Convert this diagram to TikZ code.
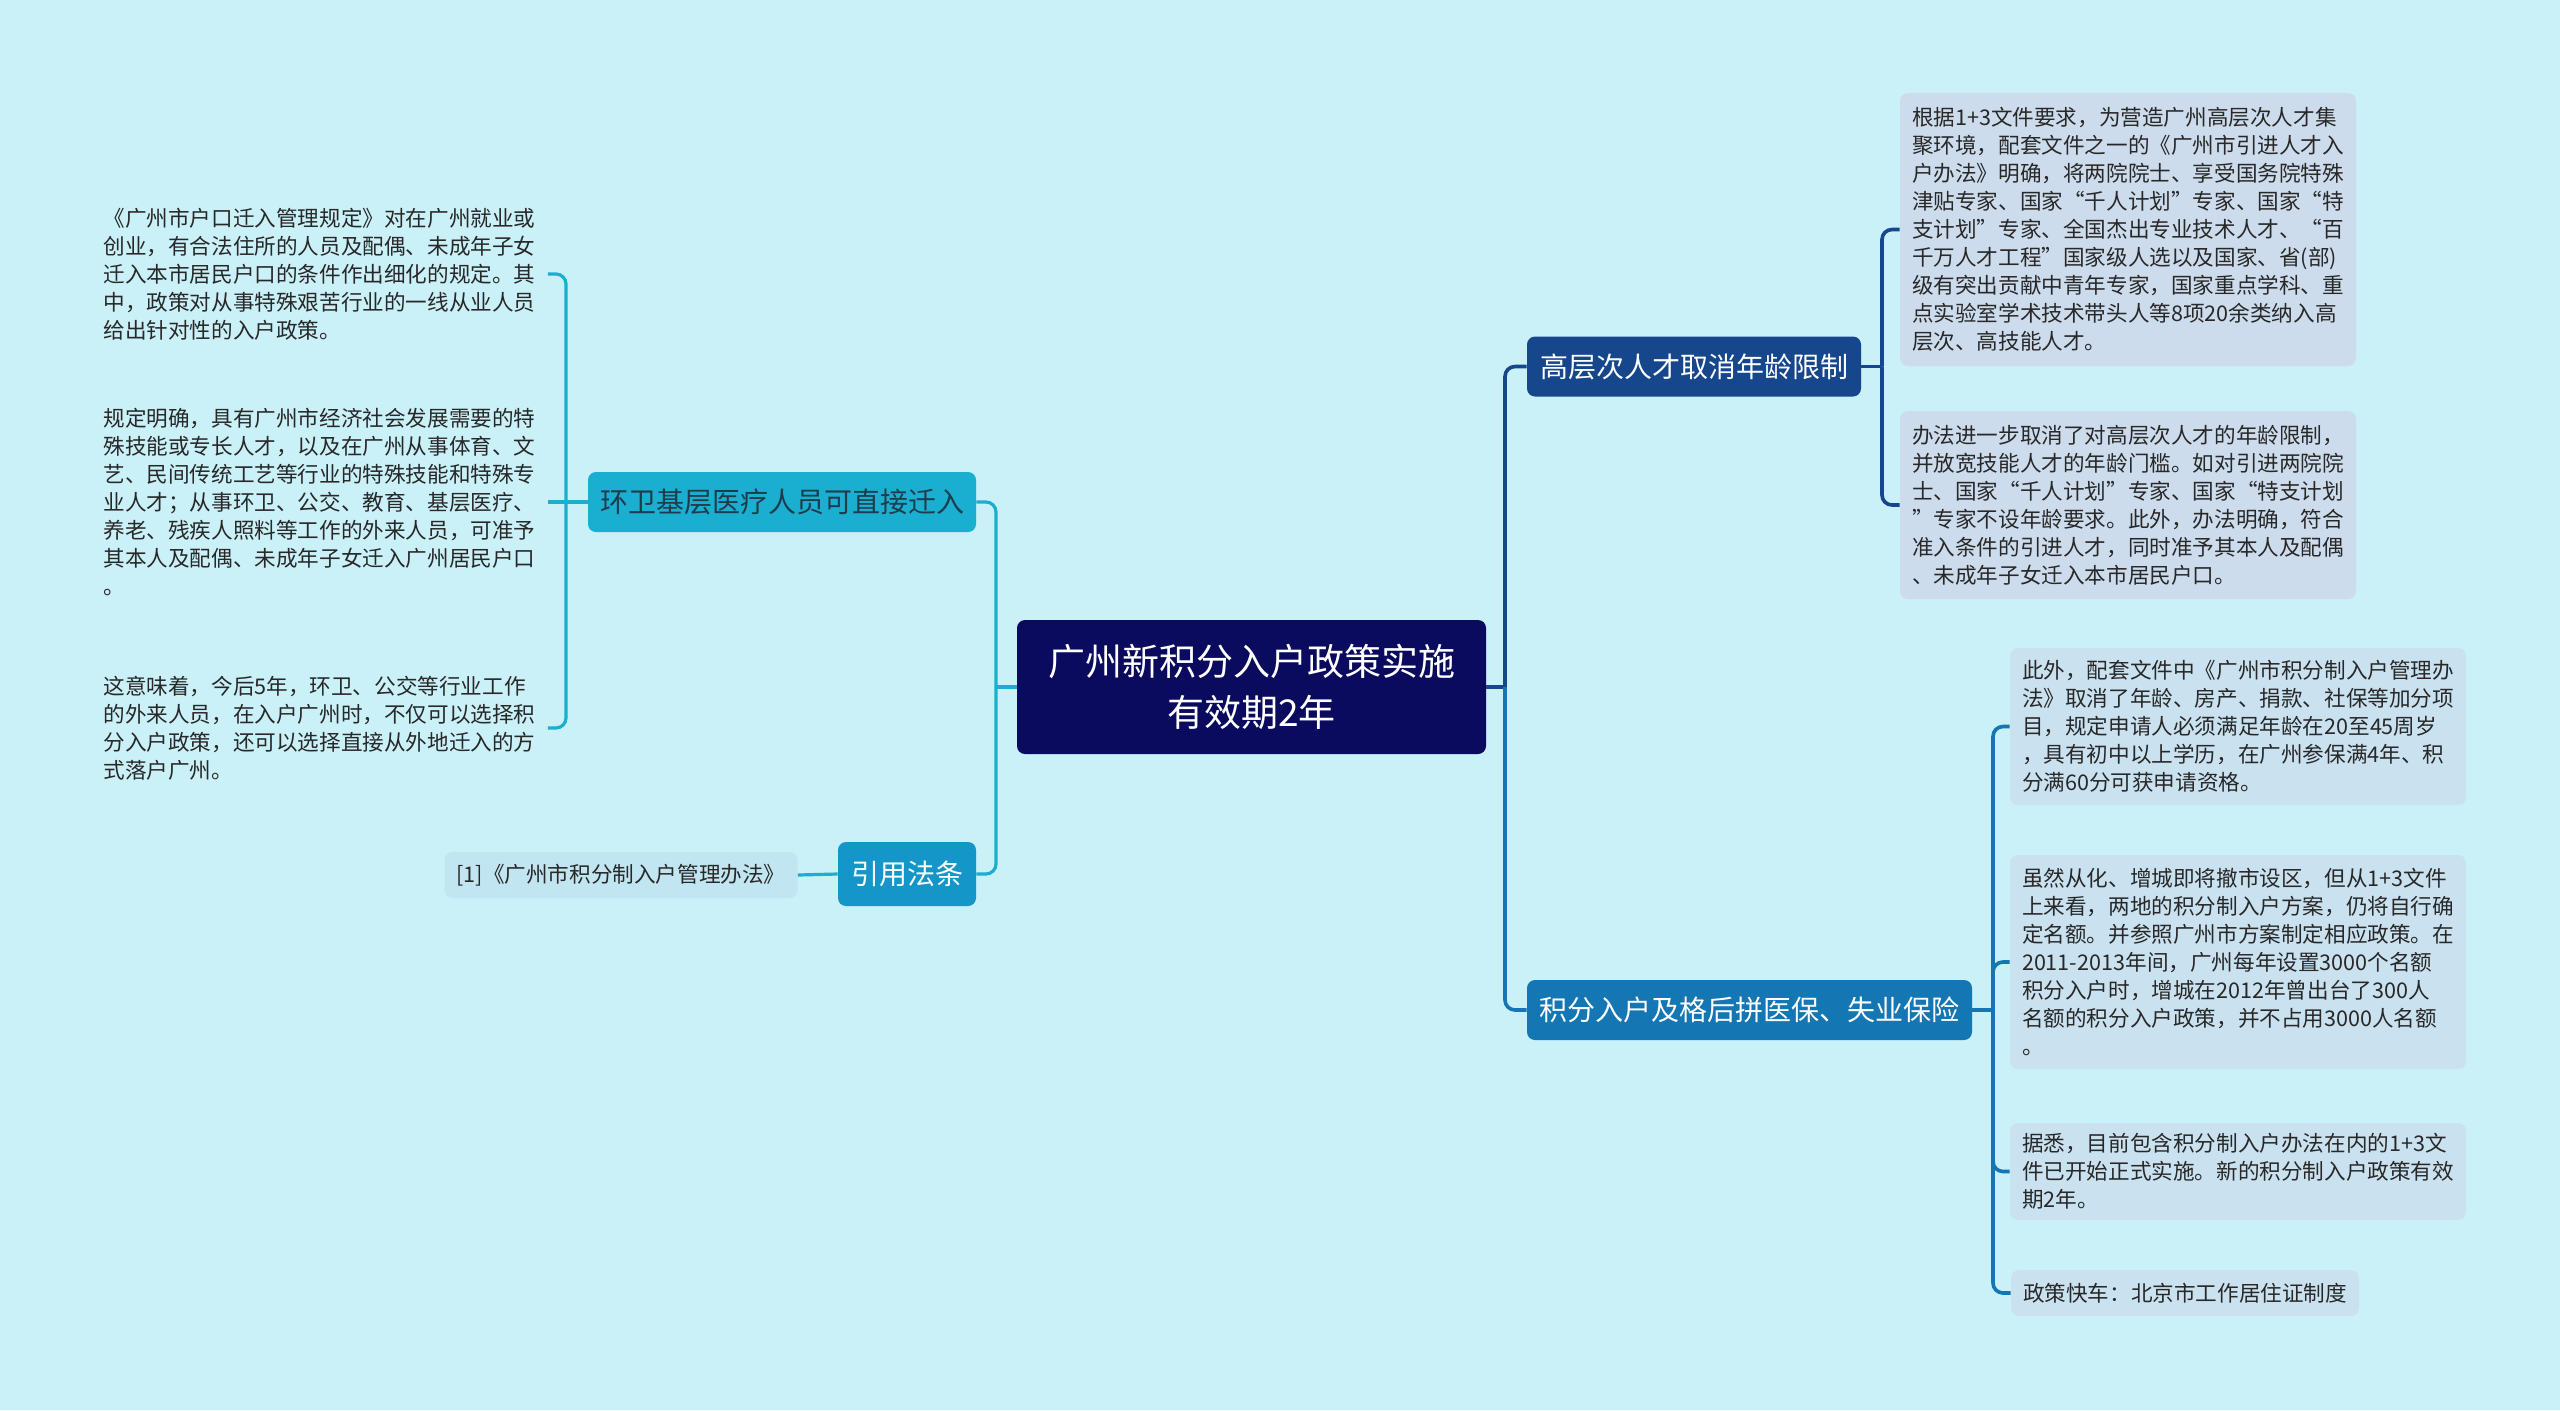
\documentclass[tikz,border=0pt]{standalone}
\usepackage{fontspec}
\setmainfont{Noto Sans CJK SC}
\usepackage{tikz}
\usetikzlibrary{positioning, calc}
\definecolor{bgcyan}{RGB}{202, 240, 248}
\definecolor{rootnavy}{RGB}{10, 10, 94}
\definecolor{hwcyan}{RGB}{26, 174, 208}
\definecolor{citeblue}{RGB}{20, 150, 200}
\definecolor{gcnavy}{RGB}{22, 70, 140}
\definecolor{jfblue}{RGB}{20, 118, 178}
\definecolor{boxgray}{RGB}{205, 220, 236}
\definecolor{boxblue}{RGB}{202, 226, 240}
\definecolor{citefill}{RGB}{194, 230, 241}
\definecolor{txtgray}{RGB}{40, 40, 40}

\begin{document}
\begin{tikzpicture}[x=0.5pt, y=-0.5pt,
    topic/.style={rectangle, rounded corners=4pt, fill=rootnavy, text=white, align=center,
      font=\fontsize{18.5}{25.5}\selectfont, minimum width=234.5pt, minimum height=67pt},
    sub/.style={rectangle, rounded corners=4pt, inner sep=2pt, font=\fontsize{14}{18}\selectfont,
      minimum height=30pt},
    leafbox/.style={rectangle, rounded corners=4pt, fill=boxgray, text=txtgray, align=left,
      font=\fontsize{10.8}{14}\selectfont, inner xsep=6pt},
    leaftext/.style={anchor=west, text=txtgray, align=left, font=\fontsize{10.8}{14}\selectfont,
      inner xsep=6pt},
    cyanline/.style={draw=hwcyan, line width=1.6pt, rounded corners=5pt},
    navyline/.style={draw=gcnavy, line width=1.8pt, rounded corners=5pt},
    blueline/.style={draw=jfblue, line width=1.8pt, rounded corners=5pt}]
  \fill[bgcyan] (0,0) rectangle (2560,1410);

  \node[topic] (root) at (1251.5,687) {广州新积分入户政策实施\\有效期2年};

  \node[sub, fill=hwcyan, text={rgb,255:red,30;green,60;blue,75}, minimum width=194pt] (hw) at (782,502) {环卫基层医疗人员可直接迁入};
  \node[sub, fill=citeblue, text=white, minimum width=69pt, minimum height=32pt] (cite) at (907,874) {引用法条};
  \node[sub, fill=gcnavy, text=white, minimum width=167pt] (gc) at (1694,366.5) {高层次人才取消年龄限制};
  \node[sub, fill=jfblue, text=white, minimum width=222.5pt] (jf) at (1749.5,1010) {积分入户及格后拼医保、失业保险};

  \node[leaftext] (hw1) at (91,274) {《广州市户口迁入管理规定》对在广州就业或\\创业，有合法住所的人员及配偶、未成年子女\\迁入本市居民户口的条件作出细化的规定。其\\中，政策对从事特殊艰苦行业的一线从业人员\\给出针对性的入户政策。};
  \node[leaftext] (hw2) at (91,502) {规定明确，具有广州市经济社会发展需要的特\\殊技能或专长人才，以及在广州从事体育、文\\艺、民间传统工艺等行业的特殊技能和特殊专\\业人才；从事环卫、公交、教育、基层医疗、\\养老、残疾人照料等工作的外来人员，可准予\\其本人及配偶、未成年子女迁入广州居民户口\\。};
  \node[leaftext] (hw3) at (91,728) {这意味着，今后5年，环卫、公交等行业工作\\的外来人员，在入户广州时，不仅可以选择积\\分入户政策，还可以选择直接从外地迁入的方\\式落户广州。};
  \node[leafbox, fill=citefill, minimum width=174pt, minimum height=23pt] (cite1) at (621,875) {[1]《广州市积分制入户管理办法》};

  \node[leafbox, minimum width=228pt, minimum height=136.5pt] (gc1) at (2128,229.5) {根据1+3文件要求，为营造广州高层次人才集\\聚环境，配套文件之一的《广州市引进人才入\\户办法》明确，将两院院士、享受国务院特殊\\津贴专家、国家“千人计划”专家、国家“特\\支计划”专家、全国杰出专业技术人才、“百\\千万人才工程”国家级人选以及国家、省(部)\\级有突出贡献中青年专家，国家重点学科、重\\点实验室学术技术带头人等8项20余类纳入高\\层次、高技能人才。};
  \node[leafbox, minimum width=228pt, minimum height=94pt] (gc2) at (2128,505) {办法进一步取消了对高层次人才的年龄限制，\\并放宽技能人才的年龄门槛。如对引进两院院\\士、国家“千人计划”专家、国家“特支计划\\”专家不设年龄要求。此外，办法明确，符合\\准入条件的引进人才，同时准予其本人及配偶\\、未成年子女迁入本市居民户口。};

  \node[leafbox, fill=boxblue, minimum width=227pt, minimum height=78.5pt] (jf1) at (2238,726.5) {此外，配套文件中《广州市积分制入户管理办\\法》取消了年龄、房产、捐款、社保等加分项\\目，规定申请人必须满足年龄在20至45周岁\\，具有初中以上学历，在广州参保满4年、积\\分满60分可获申请资格。};
  \node[leafbox, fill=boxblue, minimum width=227pt, minimum height=107pt] (jf2) at (2238,962) {虽然从化、增城即将撤市设区，但从1+3文件\\上来看，两地的积分制入户方案，仍将自行确\\定名额。并参照广州市方案制定相应政策。在\\2011-2013年间，广州每年设置3000个名额\\积分入户时，增城在2012年曾出台了300人\\名额的积分入户政策，并不占用3000人名额\\。};
  \node[leafbox, fill=boxblue, minimum width=227pt, minimum height=48.5pt] (jf3) at (2238,1171.5) {据悉，目前包含积分制入户办法在内的1+3文\\件已开始正式实施。新的积分制入户政策有效\\期2年。};
  \node[leafbox, fill=boxblue, minimum width=174pt, minimum height=23pt] (jf4) at (2185,1293) {政策快车：北京市工作居住证制度};

  \coordinate (lfork) at (996,687);
  \coordinate (hwfork) at (566,502);
  \coordinate (rfork) at (1505,687);
  \coordinate (gcfork) at (1882,366.5);
  \coordinate (jffork) at (1993,1010);

  \draw[cyanline] (root.west) -- (lfork);
  \draw[cyanline] (lfork) |- (hw.east);
  \draw[cyanline] (lfork) |- (cite.east);
  \draw[cyanline] (cite.west) -- (cite1.east);
  \draw[cyanline] (hw.west) -- (hwfork);
  \draw[cyanline] (hwfork) |- (hw1.east);
  \draw[cyanline] (hwfork) -- (hw2.east);
  \draw[cyanline] (hwfork) |- (hw3.east);

  \draw[navyline] (root.east) -- (rfork);
  \draw[navyline] (rfork) |- (gc.west);
  \draw[blueline] (rfork) |- (jf.west);
  \draw[navyline] (gc.east) -- (gcfork);
  \draw[navyline] (gcfork) |- (gc1.west);
  \draw[navyline] (gcfork) |- (gc2.west);
  \draw[blueline] (jf.east) -- (jffork);
  \draw[blueline] (jffork) |- (jf1.west);
  \draw[blueline] (jffork) |- (jf2.west);
  \draw[blueline] (jffork) |- (jf3.west);
  \draw[blueline] (jffork) |- (jf4.west);
\end{tikzpicture}
\end{document}
